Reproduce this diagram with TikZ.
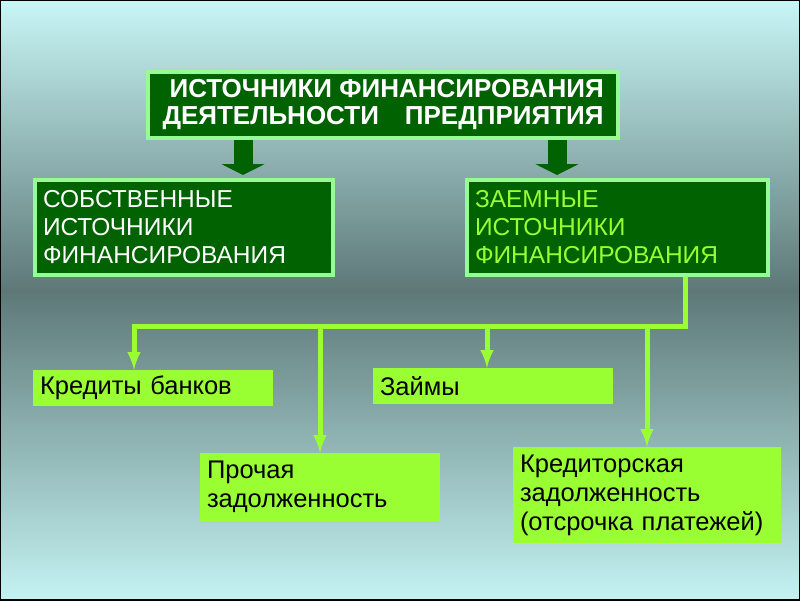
\documentclass[tikz,border=0pt]{standalone}
\usepackage{fontspec}
\setmainfont{Liberation Sans}
\usetikzlibrary{positioning}
\usetikzlibrary{arrows.meta}
\usetikzlibrary{calc}
\definecolor{dkgreen}{RGB}{0,98,0}
\definecolor{paleline}{RGB}{150,250,150}
\definecolor{lime}{RGB}{153,255,51}
\definecolor{bgtop}{RGB}{200,246,246}
\definecolor{bgmid}{RGB}{94,120,120}
\definecolor{bgbot}{RGB}{196,242,242}

\begin{document}
\begin{tikzpicture}[x=1pt, y=-1pt, >=latex,
  srcbox/.style={draw=paleline, line width=4pt, fill=dkgreen, align=left, inner sep=0pt},
  itembox/.style={fill=lime, align=left, text=black, inner sep=0pt,
    font=\fontsize{25.5}{29}\selectfont},
  link/.style={draw=lime, line width=5pt},
  blockarrow/.style={draw=dkgreen, line width=19pt, -{Triangle[width=43pt,length=11pt]}}]

% background
\useasboundingbox (0,0) rectangle (800,600);
\shade[top color=bgtop, bottom color=bgmid] (0,0) rectangle (800,290);
\shade[top color=bgmid, bottom color=bgbot] (0,290) rectangle (800,600);
\draw[black, line width=1.5pt] (0,0) rectangle (800,600);

% top box
\node [srcbox, minimum width=470, minimum height=66, text=white, align=center,
  font=\bfseries\fontsize{26}{27}\selectfont] (top) at (383,105)
  {\ ИСТОЧНИКИ ФИНАНСИРОВАНИЯ\\ДЕЯТЕЛЬНОСТИ\quad ПРЕДПРИЯТИЯ};

% source boxes
\node [srcbox, minimum width=298, minimum height=95, text=white,
  text width=282, font=\fontsize{24.5}{28}\selectfont] (own) at (184,227.5)
  {СОБСТВЕННЫЕ\\ИСТОЧНИКИ\\ФИНАНСИРОВАНИЯ};
\node [srcbox, minimum width=301, minimum height=95, text=lime,
  text width=285, font=\fontsize{24.5}{28}\selectfont] (loan) at (617.5,227.5)
  {ЗАЕМНЫЕ\\ИСТОЧНИКИ\\ФИНАНСИРОВАНИЯ};

% block arrows
\draw [blockarrow] ([xshift=-140pt]top.south) -- ([xshift=59pt,yshift=3pt]own.north);
\draw [blockarrow] ([xshift=174pt]top.south) -- ([xshift=-60.5pt,yshift=3pt]loan.north);

% lower boxes
\node [itembox, minimum width=240, minimum height=36, text width=226] (bank) at (153,388)
  {Кредиты банков};
\node [itembox, minimum width=240, minimum height=36, text width=226] (zaim) at (493,386)
  {Займы};
\node [itembox, minimum width=240, minimum height=68, text width=226] (other) at (320,487)
  {Прочая\\задолженность};
\node [itembox, minimum width=268, minimum height=96, text width=254] (credit) at (647,495)
  {Кредиторская\\задолженность\\(отсрочка платежей)};

% connectors
\coordinate (bus) at (685,326);
\draw [link] (loan.south -| bus) -- (bus) -- (bus -| other.north);
\draw [link,->] (bus -| other.north) -| ([xshift=-19pt]bank.north);
\draw [link,->] (bus -| other.north) -- (other.north);
\draw [link,->] (bus -| zaim.north) ++(-6,0) -- ([xshift=-6pt]zaim.north);
\draw [link,->] (bus -| credit.north) -- (credit.north);

\end{tikzpicture}
\end{document}
